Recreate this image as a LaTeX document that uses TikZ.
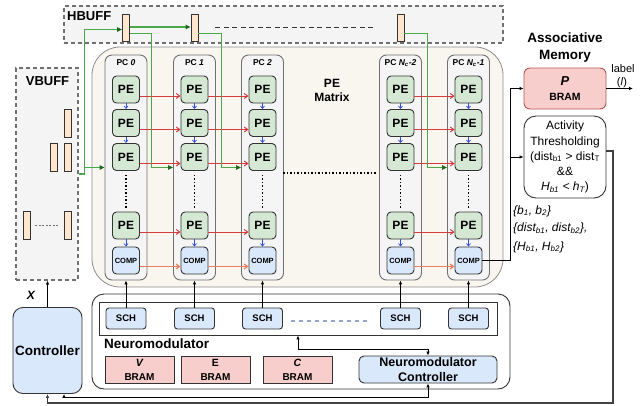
\documentclass[tikz,border=0pt]{standalone}
\usepackage{fontspec}
\setmainfont{Liberation Sans}
\usetikzlibrary{arrows.meta,calc}

\definecolor{bufffill}{HTML}{F4F4F4}
\definecolor{regfill}{HTML}{FFE6CC}
\definecolor{matfill}{HTML}{F8F6EE}
\definecolor{pcfill}{HTML}{F5F5F5}
\definecolor{pefill}{HTML}{D5E8D4}
\definecolor{bluefill}{HTML}{DAE8FC}
\definecolor{pinkfill}{HTML}{F8CECC}
\definecolor{pinkline}{HTML}{B85450}
\definecolor{edge}{HTML}{333333}
\definecolor{grayedge}{HTML}{707070}
\definecolor{gline}{HTML}{4AA84A}
\definecolor{ghead}{HTML}{1E6A1E}
\definecolor{rline}{HTML}{D63C3C}
\definecolor{oline}{HTML}{E8805E}
\definecolor{bline}{HTML}{2E4FE0}
\definecolor{schdash}{HTML}{8FA8CC}

\newcommand{\fsz}[2]{\fontsize{#1}{#2}\selectfont}

\tikzset{
  buffbox/.style={draw=grayedge, fill=bufffill, line width=1.1pt, dash pattern=on 4pt off 3pt},
  reg/.style={draw=edge, fill=regfill, line width=0.9pt, minimum width=7pt, minimum height=27pt, inner sep=0pt},
  titlebf/.style={font={\bfseries\fsz{13}{15}}, inner sep=0pt},
  matbox/.style={draw=grayedge!80, fill=matfill, line width=0.8pt, rounded corners=28pt},
  pccol/.style={draw=grayedge, fill=pcfill, rounded corners=7pt, minimum width=42pt, minimum height=225pt, line width=0.9pt},
  pclabel/.style={font={\bfseries\fsz{8.5}{10}}, inner sep=0pt},
  pebox/.style={draw=edge, fill=pefill, rounded corners=4pt, minimum width=27pt, minimum height=27pt, inner sep=0pt, line width=0.9pt, font={\bfseries\fsz{12}{14}}},
  compbox/.style={pebox, fill=bluefill, font={\bfseries\fsz{7.5}{9}}},
  schbox/.style={draw=edge, fill=bluefill, rounded corners=3pt, minimum width=40pt, minimum height=21pt, inner sep=0pt, line width=0.9pt, font={\bfseries\fsz{9.5}{11}}},
  brambox/.style={draw=edge, fill=pinkfill, minimum width=69pt, minimum height=27pt, inner sep=0pt, line width=0.9pt, align=center, font={\bfseries\fsz{10}{14}}},
  redarr/.style={draw=rline, line width=1pt, -{Straight Barb[length=3.5pt,width=5pt]}},
  orarr/.style={draw=oline, line width=1.2pt, -{Straight Barb[length=3.5pt,width=5pt]}},
  bluearr/.style={draw=bline, line width=0.7pt, -{Straight Barb[length=2.5pt,width=4pt]}},
  grnarr/.style={draw=gline, line width=1.3pt, -{Triangle[length=5pt,width=4.5pt,color=ghead]}},
  arr/.style={draw=black, line width=0.8pt, -{Latex[length=4pt,width=3.5pt]}},
  dotline/.style={draw=black, line width=1.1pt, dash pattern=on 1.1pt off 2.4pt},
}

\begin{document}
\begin{tikzpicture}[x=1pt,y=-1pt]
\useasboundingbox (0,0) rectangle (641,405);

% ---------------- horizontal buffer ----------------
\node[buffbox, minimum width=439pt, minimum height=37pt] (hbuff) at (283.5,24.5) {};
\node[titlebf, anchor=west] (hbufft) at (67,16) {HBUFF};
\node[reg] (hreg1) at (126,27.5) {};
\node[reg] (hreg2) at (194.5,27.5) {};
\node[reg] (hreg3) at (400.5,27.5) {};
\draw[draw=edge, line width=1pt, dash pattern=on 5pt off 3.5pt]
  ([xshift=17pt]hreg2.east) -- ([xshift=-21pt]hreg3.west);

% ---------------- vertical buffer ----------------
\node[buffbox, minimum width=62pt, minimum height=212pt] (vbuff) at (47,174) {};
\node[titlebf] (vbufft) at (47.5,81) {VBUFF};
\node[reg, minimum height=28pt] (vreg1) at (68,123) {};
\node[reg, minimum height=28pt] (vreg2) at (53.5,157) {};
\node[reg, minimum height=28pt] (vreg3) at (68,157) {};
\node[reg, minimum height=28pt] (vreg4) at (26.5,225.5) {};
\node[reg, minimum height=28pt] (vreg5) at (68,225.5) {};
\draw[draw=grayedge, line width=0.8pt, dash pattern=on 2pt off 1.5pt]
  ([xshift=5pt]vreg4.east) -- ([xshift=-5pt]vreg5.west);

% ---------------- PE matrix ----------------
\node[matbox, minimum width=411pt, minimum height=240pt] (pemat) at (297.5,167) {};
\node[font={\bfseries\fsz{12}{14}}, align=center, inner sep=0pt] (pematt) at (332,90) {PE\\Matrix};

\foreach \c/\x in {0/126, 1/194.5, 2/262.5, 3/400.5, 4/468.5} {
  \node[pccol] (pc\c) at (\x,167.5) {};
  \node[pebox] (pe\c-1) at (\x,89.5) {PE};
  \node[pebox] (pe\c-2) at (\x,123) {PE};
  \node[pebox] (pe\c-3) at (\x,157) {PE};
  \node[pebox] (pe\c-4) at (\x,225.5) {PE};
  \node[compbox] (comp\c) at (\x,260.5) {COMP};
  \draw[bluearr] (pe\c-1.south) -- (pe\c-2.north);
  \draw[bluearr] (pe\c-2.south) -- (pe\c-3.north);
  \draw[bluearr] (pe\c-4.south) -- (comp\c.north);
  \draw[dotline] ([yshift=-4pt]pe\c-3.south) -- ([yshift=3pt]pe\c-4.north);
}
\node[pclabel] (pcl0) at (126,63) {PC \textit{0}};
\node[pclabel] (pcl1) at (194.5,63) {PC \textit{1}};
\node[pclabel] (pcl2) at (262.5,63) {PC \textit{2}};
\node[pclabel] (pcl3) at (400.5,63) {PC \textit{N\textsubscript{c}-2}};
\node[pclabel] (pcl4) at (468.5,63) {PC \textit{N\textsubscript{c}-1}};

% horizontal links between neighbouring columns
\foreach \a/\b in {0/1, 1/2, 3/4} {
  \foreach \r in {1,2,3,4} {
    \draw[redarr] ([yshift=-6.5pt]pe\a-\r.east) -- ([yshift=-6.5pt]pe\b-\r.west);
  }
  \draw[orarr] ([yshift=-6pt]comp\a.east) -- ([yshift=-6pt]comp\b.west);
}
\draw[dotline] ([xshift=7pt,yshift=-16pt]pe2-3.east) -- ([xshift=-9pt,yshift=-16pt]pe3-3.west);

% ---------------- buffer feeds ----------------
\coordinate (gtop) at (84.5,29.5);
\coordinate (gv0) at (84.5,167.5);
\coordinate (gv1) at (151.5,167.5);
\coordinate (gv2) at (221.5,167.5);
\coordinate (gv4) at (427.5,167.5);
\draw[grnarr] (vbuff.east) -| (gtop) -- (gtop -| hreg1.west);
\draw[grnarr] (gv0) -- (gv0 -| pc0.west);
\draw[grnarr] ([yshift=0.5pt]hreg1.east) -- ([yshift=0.5pt]hreg2.west);
\draw[grnarr] ([yshift=-6pt]hreg1.east) -| (gv1) -- (gv1 -| pc1.west);
\draw[grnarr] ([yshift=-6pt]hreg2.east) -| (gv2) -- (gv2 -| pc2.west);
\draw[grnarr] ([yshift=-6pt]hreg3.east) -| (gv4) -- (gv4 -| pc4.west);

% ---------------- neuromodulator ----------------
\node[draw=edge, fill=white, line width=0.9pt, rounded corners=12pt, minimum width=418pt, minimum height=95pt] (nmod) at (301,341.5) {};
\node[draw=edge, fill=white, line width=0.9pt, minimum width=398pt, minimum height=33pt] (schrow) at (298,318.5) {};
\foreach \c/\x in {0/126, 1/194.5, 2/262.5, 3/400.5, 4/468.5} {
  \node[schbox] (sch\c) at (\x,318.5) {SCH};
  \draw[arr] (sch\c.north) -- (pc\c.south);
}
\draw[draw=schdash, line width=1.1pt, dash pattern=on 4pt off 4pt]
  ([xshift=8pt,yshift=-2.5pt]sch2.east) -- ([xshift=-10pt,yshift=-2.5pt]sch3.west);
\node[font={\bfseries\fsz{13.5}{15}}, anchor=west, inner sep=0pt] (nmodt) at (104,344) {Neuromodulator};
\node[brambox] (vbram) at (139.5,369.5) {{\fsz{10.5}{12}\itshape V}\\BRAM};
\node[brambox] (ebram) at (215.5,369.5) {{\fsz{10.5}{12}E}\\BRAM};
\node[brambox] (cbram) at (297.5,369.5) {{\fsz{10.5}{12}\itshape C}\\BRAM};
\node[draw=edge, fill=bluefill, rounded corners=5pt, line width=0.9pt, minimum width=138pt, minimum height=27pt, inner sep=0pt, align=center, font={\bfseries\fsz{12.5}{14.5}}] (nmc) at (428,369.5) {Neuromodulator\\Controller};
\coordinate (nmlink) at (298,349);
\draw[arr, {Latex[length=4pt,width=3.5pt]}-{Latex[length=4pt,width=3.5pt]}]
  (nmc.north) |- (nmlink) -- (nmlink |- schrow.south);

% ---------------- controller ----------------
\node[draw=edge, fill=bluefill, rounded corners=10pt, line width=0.9pt, minimum width=69pt, minimum height=86pt, inner sep=0pt, font={\bfseries\fsz{13.5}{15}}] (ctrl) at (47.5,350.5) {Controller};
\draw[arr] (ctrl.north) -- (ctrl.north |- vbuff.south);
\node[font={\bfseries\itshape\fsz{12}{14}}, inner sep=0pt] (xlab) at (31,295) {X};
\draw[arr, {Latex[length=4pt,width=3.5pt]}-{Latex[length=4pt,width=3.5pt]}]
  ([xshift=16.5pt]ctrl.south) |- ([yshift=-14pt]nmc.south) -- (nmc.south);

% ---------------- associative memory ----------------
\node[font={\bfseries\fsz{13.5}{17}}, align=center, inner sep=0pt] (amt) at (565,47.5) {Associative\\Memory};
\node[draw=pinkline, fill=pinkfill, rounded corners=6pt, line width=0.9pt, minimum width=82pt, minimum height=41pt, inner sep=0pt, align=center, font={\bfseries\fsz{10.5}{15}}] (pbram) at (565,88.5) {{\fsz{13}{15}\itshape P}\\BRAM};
\coordinate (lblend) at (633,88.5);
\draw[arr] (pbram.east) -- (lblend);
\node[font={\fsz{11}{13}}, inner sep=0pt] (lbl) at (623,69) {label};
\node[font={\fsz{11}{13}}, inner sep=0pt] (lbll) at (622,82.5) {(\textit{l})};

\node[draw=edge, fill=white, rounded corners=12pt, line width=0.9pt, minimum width=82pt, minimum height=82pt, inner sep=0pt, align=center, font={\fsz{12}{15.1}}] (act) at (565,157)
  {Activity\\Thresholding\\(dist\textsubscript{b1} > dist\textsubscript{T}\\\&\&\\\textit{H\textsubscript{b1} < h\textsubscript{T}})};

\coordinate (tap) at (510.5,88.5);
\draw[arr] (comp4.east) -| (tap) -- (pbram.west);
\draw[arr] (tap |- act.west) -- (act.west);

\node[font={\itshape\fsz{12}{14}}, anchor=west, inner sep=0pt] (bset) at (513,211) {\{b\textsubscript{1}, b\textsubscript{2}\}};
\node[font={\itshape\fsz{12}{14}}, anchor=west, inner sep=0pt] (dset) at (513,228.5) {\{dist\textsubscript{b1}, dist\textsubscript{b2}\},};
\node[font={\itshape\fsz{12}{14}}, anchor=west, inner sep=0pt] (hset) at (513,247) {\{H\textsubscript{b1}, H\textsubscript{b2}\}};

% feedback from thresholding to the controller
\coordinate (fbr) at (613,403);
\draw[draw=black!75, line width=1.3pt, -{Latex[length=4pt,width=3.5pt]}]
  ([yshift=6pt]act.east) -| (fbr) -| (ctrl.south);
\end{tikzpicture}
\end{document}
